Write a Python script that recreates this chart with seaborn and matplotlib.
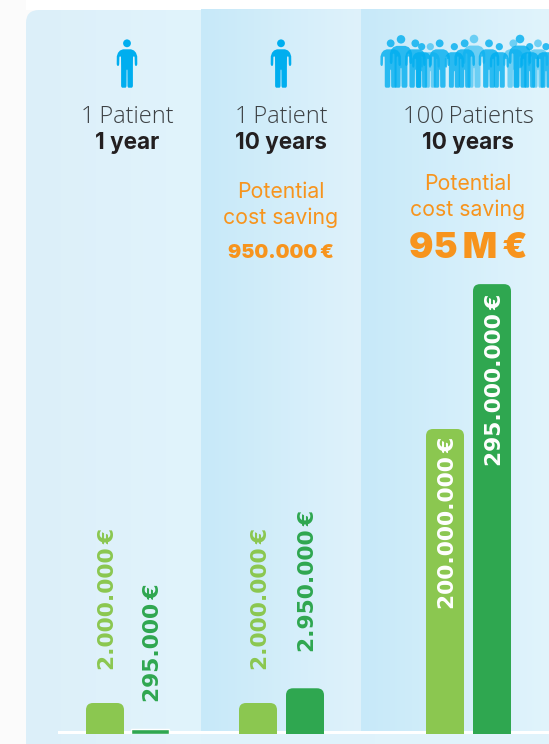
import numpy as np
import pandas as pd
import matplotlib
matplotlib.use("Agg")
import matplotlib.pyplot as plt
import seaborn as sns
from matplotlib.colors import LinearSegmentedColormap
from matplotlib.font_manager import FontProperties
from matplotlib.patches import FancyBboxPatch, PathPatch, Rectangle
from matplotlib.path import Path
from matplotlib.transforms import IdentityTransform

W, H = 549, 744

# Chart data
series = ["Current", "Treated"]
panel_titles = ["1\u2009Patient", "1\u2009Patient", "100\u2009Patients"]
panel_periods = ["1 year", "10 years", "10 years"]
panel_values = [[2_000_000, 295_000], [2_000_000, 2_950_000], [200_000_000, 295_000_000]]
panel_labels = [["2.000.000\u2009€", "295.000\u2009€"], ["2.000.000\u2009€", "2.950.000\u2009€"],
                ["200.000.000\u2009€", "295.000.000\u2009€"]]
saving_lines = ["Potential", "cost saving"]
saving_values = ["950.000\u2009€", "95\u2009M\u2009€"]

LIGHT_GREEN = "#8BC750"
DARK_GREEN = "#2FA750"
ORANGE = "#F7941D"
BLUE = "#00AEEF"
INK = "#231F20"
THIN_INK = "#3C4043"

sns.set_theme(style="white")
plt.rcParams["font.family"] = ["Inter", "DejaVu Sans"]

fig = plt.figure(figsize=(W / 100, H / 100), dpi=100, facecolor="#FBFBFB")

# Backdrop axes measured in pixels from the top left corner
bg = fig.add_axes([0, 0, 1, 1], zorder=0)
bg.set_xlim(0, W)
bg.set_ylim(H, 0)
bg.axis("off")
bg.add_patch(Rectangle((26, 0), W - 26, 10, color="white", lw=0))


def gradient(x0, x1, y0, y1, c0, c1, clip=None):
    cmap = LinearSegmentedColormap.from_list("band", [c0, c1])
    im = bg.imshow(np.linspace(0, 1, 256)[None, :], extent=(x0, x1, y1, y0),
                   cmap=cmap, aspect="auto", interpolation="bilinear", zorder=1)
    if clip is not None:
        im.set_clip_path(clip)
    return im


card = FancyBboxPatch((26 + 13, 10 + 13), W, H, boxstyle="round,pad=13,rounding_size=13",
                      transform=bg.transData, fc="none", ec="none")
bg.add_patch(card)
gradient(26, 201, 10, H, "#DCEFF9", "#E1F4FC", clip=card)
gradient(201, W, 731, H, "#DFF2FB", "#E1F4FC")
gradient(201, 361, 9, 731, "#C7E9F9", "#DFF2FB")
gradient(361, W, 9, 731, "#C7E9F9", "#E1F4FC")
bg.set_xlim(0, W)
bg.set_ylim(H, 0)
bg.add_patch(Rectangle((58, 731), W - 58, 3, color="white", lw=0, zorder=2))

# Person pictogram outline, half of it, relative to the head centre
HALF = [(0, 6), (4, 6), (7, 7.2), (9, 9.5), (10.2, 13), (10.3, 21), (9.6, 22.6), (8.4, 22.6),
        (7.8, 21), (7.6, 13.5), (6.5, 13), (6.0, 14), (5.9, 24), (5.9, 43), (5, 44.4), (1.3, 44.4),
        (0.5, 43), (0.4, 27), (0, 26)]


def person(cx, head_y, foot_y=87.7, alpha=1.0, zorder=3):
    s = (foot_y - head_y) / 44.4
    pts = HALF + [(-x, y) for x, y in reversed(HALF[:-1])]
    body = Path([(cx + x * s, head_y + y * s) for x, y in pts] + [(cx, head_y + 6 * s)], closed=True)
    circle = Path.circle((cx, head_y), 3.9 * s)
    bg.add_patch(PathPatch(Path.make_compound_path(body, circle), fc=BLUE, ec="none",
                           alpha=alpha, zorder=zorder))


person(127, 43.3)
person(281, 43.3)

crowd_back = [(430, 70), (181, 80), (312, 57), (504, 70)]
crowd_front = [(93, 58), (62, 70), (136, 70), (155, 80), (209, 70), (284, 70), (253, 80),
               (357, 70), (388, 80), (450, 57), (479, 80), (528, 80)]
for hx, hy in crowd_back:
    person(370 + hx / 3, 20 + hy / 3, alpha=0.5)
for hx, hy in crowd_front:
    person(370 + hx / 3, 20 + hy / 3, alpha=0.8, zorder=4)

# Panel headings
title_font = FontProperties(family=["Open Sans", "DejaVu Sans"], weight="light", size=17)
centers = [127, 281, 468]
for cx, title, period in zip(centers, panel_titles, panel_periods):
    bg.text(cx, 117, title, ha="center", va="center", color=THIN_INK, fontproperties=title_font, zorder=5)
    bg.text(cx, 143, period, ha="center", va="center", fontsize=16.2, color=INK,
            fontweight="bold", zorder=5)

bg.text(281, 191.5, saving_lines[0], ha="center", va="center", fontsize=15.3, color=ORANGE, zorder=5)
bg.text(281, 218, saving_lines[1], ha="center", va="center", fontsize=15.3, color=ORANGE, zorder=5)
bg.text(281, 253, saving_values[0], ha="center", va="center", fontsize=14.2, color=ORANGE,
        fontweight="black", zorder=5)
bg.text(468, 183.5, saving_lines[0], ha="center", va="center", fontsize=15.3, color=ORANGE, zorder=5)
bg.text(468, 210, saving_lines[1], ha="center", va="center", fontsize=15.3, color=ORANGE, zorder=5)
bg.text(468, 249, saving_values[1], ha="center", va="center", fontsize=26, color=ORANGE,
        fontweight="black", zorder=5)

# One set of bars per panel; the last panel runs on its own value scale
BASE = 734
TOP = 10
spacings = [45, 47, 47]
bar_centers = [127.5, 281.5, 468.5]
px_per_euro = [15.5e-6, 15.5e-6, 1.525e-6]
label_offsets = [[33, 27], [33, 36], [-8, -10]]
value_font = FontProperties(family="DejaVu Sans", weight="bold", size=15.7)

for i in range(3):
    half = spacings[i]
    left = bar_centers[i] - half
    ax = fig.add_axes([left / W, (H - BASE) / H, 2 * half / W, (BASE - TOP) / H], zorder=2)
    ax.patch.set_alpha(0)
    df = pd.DataFrame({"series": series, "value": panel_values[i]})
    sns.barplot(data=df, x="series", y="value", hue="series", palette=[LIGHT_GREEN, DARK_GREEN],
                width=38 / half, dodge=False, legend=False, saturation=1, ax=ax)
    ax.set_xlim(-0.5, 1.5)
    ax.set_ylim(0, (BASE - TOP) / px_per_euro[i])
    ax.axis("off")
    fig.canvas.draw()

    for bar, text, off in zip(list(ax.patches), panel_labels[i], label_offsets[i]):
        # Tall bars get rounded top corners, laid over the bar in display space
        box = bar.get_window_extent()
        r = 7
        if box.height > r:
            rounded = FancyBboxPatch((box.x0 + r, box.y0 - 20), box.width - 2 * r, box.height + 20 - r,
                                     boxstyle=f"round,pad={r},rounding_size={r}",
                                     fc=bar.get_facecolor(), ec="none", lw=0,
                                     transform=IdentityTransform())
            ax.add_patch(rounded)
            rounded.set_transform(IdentityTransform())
            rounded.set_clip_path(ax.patch)
            bar.set_visible(False)
        inside = off < 0
        color = "white" if inside else bar.get_facecolor()
        ax.annotate(text, xy=(bar.get_x() + bar.get_width() / 2, bar.get_height()),
                    xytext=(3, off), textcoords="offset pixels", rotation=90,
                    ha="center", va="top" if inside else "bottom",
                    fontproperties=value_font, color=color, annotation_clip=False, zorder=5)

fig.savefig("out.png", dpi=100, facecolor=fig.get_facecolor())
